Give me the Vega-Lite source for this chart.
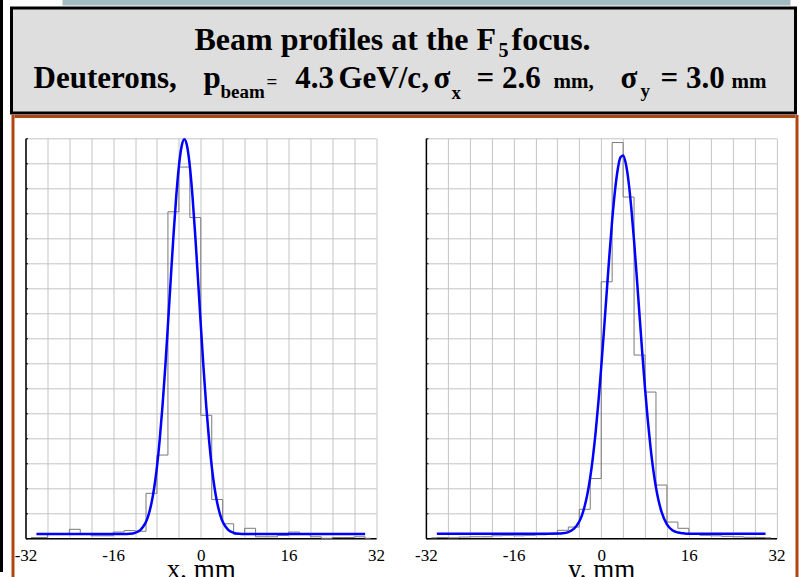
{
  "$schema": "https://vega.github.io/schema/vega-lite/v6.json",
  "background": "white",
  "padding": 0,
  "bounds": "flush",
  "spacing": 8.5,
  "config": {"view": {"stroke": null}},
  "datasets": {
    "histX": [
      {"x": -31, "n": 0.03}, {"x": -29, "n": 0.03}, {"x": -27, "n": 0.16}, {"x": -25, "n": 0.16},
      {"x": -23, "n": 0.36}, {"x": -21, "n": 0.16}, {"x": -19, "n": 0.1}, {"x": -17, "n": 0.1},
      {"x": -15, "n": 0.25}, {"x": -13, "n": 0.31}, {"x": -11, "n": 0.28}, {"x": -9, "n": 1.8},
      {"x": -7, "n": 3.33}, {"x": -5, "n": 13.06}, {"x": -3, "n": 14.85}, {"x": -1, "n": 12.83},
      {"x": 1, "n": 4.92}, {"x": 3, "n": 1.55}, {"x": 5, "n": 0.58}, {"x": 7, "n": 0.16},
      {"x": 9, "n": 0.4}, {"x": 11, "n": 0.06}, {"x": 13, "n": 0.06}, {"x": 15, "n": 0.12},
      {"x": 17, "n": 0.25}, {"x": 19, "n": 0.16}, {"x": 21, "n": 0.06}, {"x": 23, "n": 0.0},
      {"x": 25, "n": 0.03}, {"x": 27, "n": 0.03}, {"x": 29, "n": 0.06}, {"x": 31, "n": 0.0}
    ],
    "histY": [
      {"x": -31, "n": 0.02}, {"x": -29, "n": 0.03}, {"x": -27, "n": 0.02}, {"x": -25, "n": 0.05},
      {"x": -23, "n": 0.06}, {"x": -21, "n": 0.06}, {"x": -19, "n": 0.1}, {"x": -17, "n": 0.12},
      {"x": -15, "n": 0.1}, {"x": -13, "n": 0.12}, {"x": -11, "n": 0.14}, {"x": -9, "n": 0.16},
      {"x": -7, "n": 0.32}, {"x": -5, "n": 0.45}, {"x": -3, "n": 1.16}, {"x": -1, "n": 2.39},
      {"x": 1, "n": 10.26}, {"x": 3, "n": 15.83}, {"x": 5, "n": 13.65}, {"x": 7, "n": 7.33},
      {"x": 9, "n": 5.85}, {"x": 11, "n": 2.13}, {"x": 13, "n": 0.65}, {"x": 15, "n": 0.4},
      {"x": 17, "n": 0.19}, {"x": 19, "n": 0.12}, {"x": 21, "n": 0.1}, {"x": 23, "n": 0.08},
      {"x": 25, "n": 0.06}, {"x": 27, "n": 0.04}, {"x": 29, "n": 0.03}, {"x": 31, "n": 0.02}
    ],
    "fitX": [
      {"x": -30, "f": 0.17}, {"x": -20, "f": 0.17}, {"x": -14, "f": 0.17}, {"x": -13, "f": 0.18},
      {"x": -12, "f": 0.22}, {"x": -11, "f": 0.34}, {"x": -10.5, "f": 0.47}, {"x": -10, "f": 0.66},
      {"x": -9.5, "f": 0.97}, {"x": -9, "f": 1.41}, {"x": -8.5, "f": 2.03}, {"x": -8, "f": 2.87},
      {"x": -7.5, "f": 3.95}, {"x": -7, "f": 5.27}, {"x": -6.5, "f": 6.81}, {"x": -6, "f": 8.53},
      {"x": -5.5, "f": 10.32}, {"x": -5, "f": 12.07}, {"x": -4.5, "f": 13.64}, {"x": -4, "f": 14.88},
      {"x": -3.5, "f": 15.68}, {"x": -3, "f": 15.96}, {"x": -2.5, "f": 15.68}, {"x": -2, "f": 14.88},
      {"x": -1.5, "f": 13.64}, {"x": -1, "f": 12.07}, {"x": -0.5, "f": 10.32}, {"x": 0, "f": 8.53},
      {"x": 0.5, "f": 6.81}, {"x": 1, "f": 5.27}, {"x": 1.5, "f": 3.95}, {"x": 2, "f": 2.87},
      {"x": 2.5, "f": 2.03}, {"x": 3, "f": 1.41}, {"x": 3.5, "f": 0.97}, {"x": 4, "f": 0.66},
      {"x": 4.5, "f": 0.47}, {"x": 5, "f": 0.34}, {"x": 6, "f": 0.22}, {"x": 7, "f": 0.18},
      {"x": 8, "f": 0.17}, {"x": 14, "f": 0.17}, {"x": 20, "f": 0.17}, {"x": 30, "f": 0.17}
    ],
    "fitY": [
      {"x": -30, "f": 0.18}, {"x": -20, "f": 0.18}, {"x": -12, "f": 0.18}, {"x": -8, "f": 0.19},
      {"x": -7, "f": 0.2}, {"x": -6, "f": 0.25}, {"x": -5, "f": 0.38}, {"x": -4, "f": 0.67},
      {"x": -3.5, "f": 0.93}, {"x": -3, "f": 1.3}, {"x": -2.5, "f": 1.79}, {"x": -2, "f": 2.44},
      {"x": -1.5, "f": 3.27}, {"x": -1, "f": 4.28}, {"x": -0.5, "f": 5.48}, {"x": 0, "f": 6.83},
      {"x": 0.5, "f": 8.3}, {"x": 1, "f": 9.83}, {"x": 1.5, "f": 11.33}, {"x": 2, "f": 12.71},
      {"x": 2.5, "f": 13.87}, {"x": 3, "f": 14.73}, {"x": 3.5, "f": 15.23}, {"x": 4, "f": 15.31},
      {"x": 4.5, "f": 14.98}, {"x": 5, "f": 14.26}, {"x": 5.5, "f": 13.2}, {"x": 6, "f": 11.9},
      {"x": 6.5, "f": 10.44}, {"x": 7, "f": 8.91}, {"x": 7.5, "f": 7.41}, {"x": 8, "f": 6.0},
      {"x": 8.5, "f": 4.74}, {"x": 9, "f": 3.65}, {"x": 9.5, "f": 2.75}, {"x": 10, "f": 2.03},
      {"x": 10.5, "f": 1.48}, {"x": 11, "f": 1.07}, {"x": 12, "f": 0.56}, {"x": 13, "f": 0.32},
      {"x": 14, "f": 0.23}, {"x": 15, "f": 0.2}, {"x": 16, "f": 0.18}, {"x": 20, "f": 0.18},
      {"x": 30, "f": 0.18}
    ]
  },
  "hconcat": [
    {
      "width": 3, "height": 572,
      "data": {"values": [{}]},
      "mark": {"type": "text", "text": "", "fontSize": 0.01},
      "view": {"fill": "#000000", "stroke": null}
    },
    {
      "spacing": 0,
      "bounds": "full",
      "vconcat": [
        {
          "spacing": 0,
          "bounds": "full",
          "vconcat": [
            {
              "spacing": 0,
              "bounds": "flush",
              "hconcat": [
                {"width": 50.5, "height": 5.5, "data": {"values": [{}]}, "mark": {"type": "text", "text": "", "fontSize": 0.01}, "view": {"stroke": null}},
                {"width": 728, "height": 5.5, "data": {"values": [{}]}, "mark": {"type": "text", "text": "", "fontSize": 0.01}, "view": {"fill": "#a3bcc1", "stroke": null}}
              ]
            },
            {
              "width": 784, "height": 105,
              "view": {"fill": "#dedede", "stroke": "#000000", "strokeWidth": 3},
              "data": {"values": [{}]},
              "layer": [
                {"mark": {"type": "text", "text": "Beam profiles at the F", "align": "left", "baseline": "alphabetic", "dx": -209, "dy": -10.2, "fontSize": 32, "fontWeight": "bold", "font": "Liberation Serif", "color": "#000000"}},
                {"mark": {"type": "text", "text": "5", "align": "left", "baseline": "alphabetic", "dx": 95, "dy": -3.5, "fontSize": 20, "fontWeight": "bold", "font": "Liberation Serif", "color": "#000000"}},
                {"mark": {"type": "text", "text": "focus.", "align": "left", "baseline": "alphabetic", "dx": 108, "dy": -10.2, "fontSize": 32, "fontWeight": "bold", "font": "Liberation Serif", "color": "#000000"}},
                {"mark": {"type": "text", "text": "Deuterons,", "align": "left", "baseline": "alphabetic", "dx": -370, "dy": 27.8, "fontSize": 31, "fontWeight": "bold", "font": "Liberation Serif", "color": "#000000"}},
                {"mark": {"type": "text", "text": "p", "align": "left", "baseline": "alphabetic", "dx": -200, "dy": 27.8, "fontSize": 31, "fontWeight": "bold", "font": "Liberation Serif", "color": "#000000"}},
                {"mark": {"type": "text", "text": "beam", "align": "left", "baseline": "alphabetic", "dx": -183, "dy": 37, "fontSize": 19, "fontWeight": "bold", "font": "Liberation Serif", "color": "#000000"}},
                {"mark": {"type": "text", "text": "=", "align": "left", "baseline": "alphabetic", "dx": -137, "dy": 27.8, "fontSize": 19, "fontWeight": "bold", "font": "Liberation Serif", "color": "#000000"}},
                {"mark": {"type": "text", "text": "4.3", "align": "left", "baseline": "alphabetic", "dx": -108.3, "dy": 27.8, "fontSize": 31, "fontWeight": "bold", "font": "Liberation Serif", "color": "#000000"}},
                {"mark": {"type": "text", "text": "GeV/c,", "align": "left", "baseline": "alphabetic", "dx": -65, "dy": 27.8, "fontSize": 31, "fontWeight": "bold", "font": "Liberation Serif", "color": "#000000"}},
                {"mark": {"type": "text", "text": "σ", "align": "left", "baseline": "alphabetic", "dx": 30, "dy": 27.8, "fontSize": 31, "fontWeight": "bold", "font": "Liberation Serif", "color": "#000000"}},
                {"mark": {"type": "text", "text": "x", "align": "left", "baseline": "alphabetic", "dx": 48, "dy": 38.5, "fontSize": 19, "fontWeight": "bold", "font": "Liberation Serif", "color": "#000000"}},
                {"mark": {"type": "text", "text": "= 2.6", "align": "left", "baseline": "alphabetic", "dx": 73, "dy": 27.8, "fontSize": 31, "fontWeight": "bold", "font": "Liberation Serif", "color": "#000000"}},
                {"mark": {"type": "text", "text": "mm,", "align": "left", "baseline": "alphabetic", "dx": 150, "dy": 27.8, "fontSize": 21, "fontWeight": "bold", "font": "Liberation Serif", "color": "#000000"}},
                {"mark": {"type": "text", "text": "σ", "align": "left", "baseline": "alphabetic", "dx": 217, "dy": 27.8, "fontSize": 31, "fontWeight": "bold", "font": "Liberation Serif", "color": "#000000"}},
                {"mark": {"type": "text", "text": "y", "align": "left", "baseline": "alphabetic", "dx": 237, "dy": 36.5, "fontSize": 19, "fontWeight": "bold", "font": "Liberation Serif", "color": "#000000"}},
                {"mark": {"type": "text", "text": "= 3.0", "align": "left", "baseline": "alphabetic", "dx": 257, "dy": 27.8, "fontSize": 31, "fontWeight": "bold", "font": "Liberation Serif", "color": "#000000"}},
                {"mark": {"type": "text", "text": "mm", "align": "left", "baseline": "alphabetic", "dx": 328, "dy": 27.8, "fontSize": 21, "fontWeight": "bold", "font": "Liberation Serif", "color": "#000000"}}
              ]
            }
          ]
        },
        {
          "spacing": -2,
          "bounds": "full",
          "hconcat": [
            {"width": 3, "height": 464, "data": {"values": [{}]}, "mark": {"type": "text", "text": "", "fontSize": 0.01}, "view": {"fill": "#b4440e", "stroke": null}},
            {
              "spacing": 20.3,
              "bounds": "flush",
              "vconcat": [
                {"width": 781, "height": 3, "data": {"values": [{}]}, "mark": {"type": "text", "text": "", "fontSize": 0.01}, "view": {"fill": "#b4440e", "stroke": null}},
                {
                  "spacing": 0,
                  "bounds": "flush",
                  "hconcat": [
                    {"width": 10.5, "height": 400, "data": {"values": [{}]}, "mark": {"type": "text", "text": "", "fontSize": 0.01}, "view": {"stroke": null}},
                    {
                      "spacing": 49.4,
                      "bounds": "flush",
                      "hconcat": [
                        {
                          "width": 350.6, "height": 400,
                          "view": {"stroke": null},
                          "layer": [
                            {
                              "data": {"name": "histX"},
                              "mark": {"type": "line", "interpolate": "step", "color": "#7a7a7a", "strokeWidth": 1},
                              "encoding": {
                                "x": {"field": "x", "type": "quantitative", "scale": {"domain": [-32, 32], "nice": false},
                                  "axis": {"values": [-32, -28, -24, -20, -16, -12, -8, -4, 0, 4, 8, 12, 16, 20, 24, 28, 32], "tickCount": 100,
                                    "labelExpr": "datum.value % 16 === 0 ? (datum.value < 0 ? '-' + abs(datum.value) : '' + datum.value) : ''",
                                    "grid": true, "gridColor": "#c4c4c4", "gridWidth": 1, "ticks": false, "tickSize": 0,
                                    "domainColor": "#000000", "domainWidth": 1.5,
                                    "labelFont": "Liberation Serif", "labelFontSize": 17, "labelColor": "#000000", "labelPadding": 9, "labelFlush": false, "labelOverlap": false,
                                    "title": "x, mm", "titleFont": "Liberation Serif", "titleFontSize": 27, "titleFontWeight": "normal", "titleColor": "#000000", "titlePadding": -7}},
                                "y": {"field": "n", "type": "quantitative", "scale": {"domain": [0, 16], "nice": false},
                                  "axis": {"values": [0, 1, 2, 3, 4, 5, 6, 7, 8, 9, 10, 11, 12, 13, 14, 15, 16], "tickCount": 100, "labels": false, "ticks": true, "tickSize": -2, "tickColor": "#000000",
                                    "grid": true, "gridColor": "#c4c4c4", "gridWidth": 1, "domainColor": "#000000", "domainWidth": 1.5, "title": null}}
                              }
                            },
                            {
                              "data": {"name": "fitX"},
                              "mark": {"type": "line", "interpolate": "monotone", "color": "#0000ff", "strokeWidth": 2.5},
                              "encoding": {
                                "x": {"field": "x", "type": "quantitative"},
                                "y": {"field": "f", "type": "quantitative"}
                              }
                            }
                          ]
                        },
                        {
                          "width": 350.6, "height": 400,
                          "view": {"stroke": null},
                          "layer": [
                            {
                              "data": {"name": "histY"},
                              "mark": {"type": "line", "interpolate": "step", "color": "#7a7a7a", "strokeWidth": 1},
                              "encoding": {
                                "x": {"field": "x", "type": "quantitative", "scale": {"domain": [-32, 32], "nice": false},
                                  "axis": {"values": [-32, -28, -24, -20, -16, -12, -8, -4, 0, 4, 8, 12, 16, 20, 24, 28, 32], "tickCount": 100,
                                    "labelExpr": "datum.value % 16 === 0 ? (datum.value < 0 ? '-' + abs(datum.value) : '' + datum.value) : ''",
                                    "grid": true, "gridColor": "#c4c4c4", "gridWidth": 1, "ticks": false, "tickSize": 0,
                                    "domainColor": "#000000", "domainWidth": 1.5,
                                    "labelFont": "Liberation Serif", "labelFontSize": 17, "labelColor": "#000000", "labelPadding": 9, "labelFlush": false, "labelOverlap": false,
                                    "title": "y, mm", "titleFont": "Liberation Serif", "titleFontSize": 27, "titleFontWeight": "normal", "titleColor": "#000000", "titlePadding": -7}},
                                "y": {"field": "n", "type": "quantitative", "scale": {"domain": [0, 16], "nice": false},
                                  "axis": {"values": [0, 1, 2, 3, 4, 5, 6, 7, 8, 9, 10, 11, 12, 13, 14, 15, 16], "tickCount": 100, "labels": false, "ticks": true, "tickSize": -2, "tickColor": "#000000",
                                    "grid": true, "gridColor": "#c4c4c4", "gridWidth": 1, "domainColor": "#000000", "domainWidth": 1.5, "title": null}}
                              }
                            },
                            {
                              "data": {"name": "fitY"},
                              "mark": {"type": "line", "interpolate": "monotone", "color": "#0000ff", "strokeWidth": 2.5},
                              "encoding": {
                                "x": {"field": "x", "type": "quantitative"},
                                "y": {"field": "f", "type": "quantitative"}
                              }
                            }
                          ]
                        }
                      ]
                    }
                  ]
                }
              ]
            },
            {"width": 3, "height": 464, "data": {"values": [{}]}, "mark": {"type": "text", "text": "", "fontSize": 0.01}, "view": {"fill": "#b4440e", "stroke": null}}
          ]
        }
      ]
    }
  ]
}
